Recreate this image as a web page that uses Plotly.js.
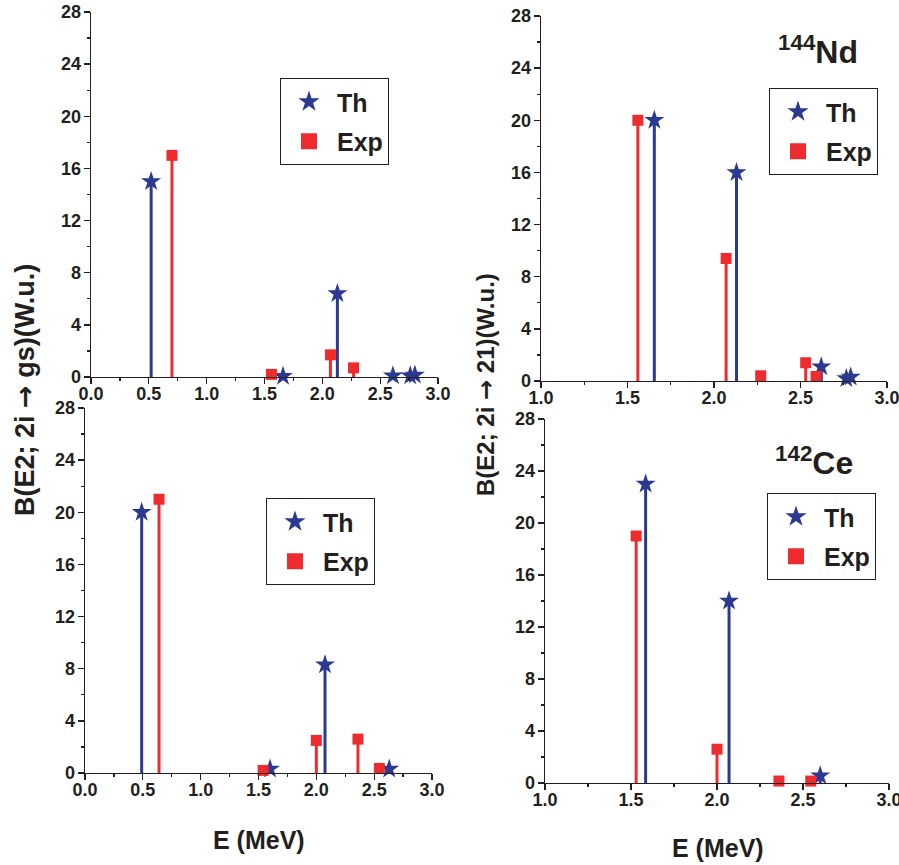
<!DOCTYPE html>
<html>
<head>
<meta charset="utf-8">
<script src="https://cdn.plot.ly/plotly-3.0.1.min.js"></script>
<style>html,body{margin:0;padding:0;background:#fff;}#chart{width:899px;height:865px;}</style>
</head>
<body>
<div id="chart"></div>
<script>
// ---- Data ----
// Top-left panel: B(E2; 2i -> gs)
var tlThE  = [0.52, 1.66, 2.13, 2.61, 2.76, 2.80];
var tlThB  = [15, 0.05, 6.4, 0.1, 0.1, 0.15];
var tlExpE = [0.70, 1.56, 2.07, 2.27];
var tlExpB = [17, 0.2, 1.7, 0.7];

// Top-right panel: 144Nd, B(E2; 2i -> 21)
var trThE  = [1.655, 2.13, 2.62, 2.765, 2.79];
var trThB  = [20, 16, 1.1, 0.2, 0.3];
var trExpE = [1.56, 2.07, 2.27, 2.53, 2.59];
var trExpB = [20, 9.4, 0.4, 1.4, 0.35];

// Bottom-left panel
var blThE  = [0.49, 1.60, 2.075, 2.63];
var blThB  = [20, 0.3, 8.3, 0.3];
var blExpE = [0.64, 1.54, 2.00, 2.36, 2.545];
var blExpB = [21, 0.2, 2.5, 2.6, 0.35];

// Bottom-right panel: 142Ce
var brThE  = [1.585, 2.07, 2.60];
var brThB  = [23, 14, 0.55];
var brExpE = [1.53, 2.00, 2.36, 2.545];
var brExpB = [19, 2.6, 0.15, 0.15];

var yTicks = [0, 4, 8, 12, 16, 20, 24, 28];
var seriesNames = ["Th", "Exp"];

// ---- Styles ----
var BLUE = "#2b3990";
var RED = "#ee2b2e";
var INK = "#231f20";
var FONT = "Liberation Sans, Arial, Helvetica, sans-serif";
var W = 899, H = 865;

function zeros(a){ return a.map(function(){ return 0; }); }

function stemTrace(xs, ys, name, color, symbol, size, xa, ya){
  return {
    type: "scatter", mode: "markers", x: xs, y: ys, name: name,
    xaxis: xa, yaxis: ya, showlegend: false, cliponaxis: false,
    marker: {symbol: symbol, size: size, color: color, line: {width: 0}},
    error_y: {type: "data", symmetric: false, array: zeros(ys), arrayminus: ys,
              width: 0, thickness: 3, color: color}
  };
}
function legendTrace(name, color, symbol, xa, ya, lg){
  return {
    type: "scatter", mode: "markers", x: [null], y: [null], name: name,
    xaxis: xa, yaxis: ya, legend: lg, showlegend: true, legendgroup: lg + name,
    marker: {symbol: symbol, size: 18, color: color}
  };
}

var panels = [
  {xa: "x",  ya: "y",  lg: "legend",  th: [tlThE, tlThB], ex: [tlExpE, tlExpB]},
  {xa: "x2", ya: "y2", lg: "legend2", th: [trThE, trThB], ex: [trExpE, trExpB]},
  {xa: "x3", ya: "y3", lg: "legend3", th: [blThE, blThB], ex: [blExpE, blExpB]},
  {xa: "x4", ya: "y4", lg: "legend4", th: [brThE, brThB], ex: [brExpE, brExpB]}
];

var data = [];
panels.forEach(function(p){
  data.push(stemTrace(p.th[0], p.th[1], seriesNames[0], BLUE, "star", 15, p.xa, p.ya));
  data.push(stemTrace(p.ex[0], p.ex[1], seriesNames[1], RED, "square", 11, p.xa, p.ya));
  data.push(legendTrace(seriesNames[0], BLUE, "star", p.xa, p.ya, p.lg));
  data.push(legendTrace(seriesNames[1], RED, "square", p.xa, p.ya, p.lg));
});

function px2x(px){ return px / W; }
function px2y(py){ return 1 - py / H; }

function tickFont(){ return {family: FONT, size: 18, color: INK, weight: 700}; }

function xAxis(x0, x1, range, anchor){
  return {
    domain: [px2x(x0), px2x(x1)], range: range, anchor: anchor,
    showline: true, linecolor: INK, linewidth: 1.3, showgrid: false, zeroline: false,
    ticks: "outside", ticklen: 6, tickwidth: 1.3, tickcolor: INK,
    dtick: 0.5, tick0: 0, tickformat: ".1f", tickfont: tickFont(),
    ticklabeloverflow: "allow", ticklabelstandoff: -6,
    minor: {ticks: "outside", ticklen: 3, tickwidth: 1.2, tickcolor: INK, dtick: 0.25, showgrid: false},
    fixedrange: true
  };
}
function yAxis(y0, y1, anchor){
  return {
    domain: [px2y(y1), px2y(y0)], range: [0, 28], anchor: anchor,
    showline: true, linecolor: INK, linewidth: 1.3, showgrid: false, zeroline: false,
    ticks: "outside", ticklen: 6, tickwidth: 1.3, tickcolor: INK,
    tickmode: "array", tickvals: yTicks, ticktext: yTicks.map(String), tickfont: tickFont(),
    ticklabeloverflow: "allow", ticklabelstandoff: -1,
    minor: {ticks: "outside", ticklen: 3, tickwidth: 1.2, tickcolor: INK, dtick: 2, showgrid: false},
    fixedrange: true
  };
}

function legendAt(x, y){
  return {
    x: px2x(x), y: px2y(y), xanchor: "left", yanchor: "top",
    bgcolor: "#ffffff", bordercolor: INK, borderwidth: 1,
    font: {family: FONT, size: 25, color: INK, weight: 700},
    itemwidth: 46, tracegroupgap: 4, traceorder: "grouped"
  };
}

function ann(text, x, y, size, angle){
  return {
    text: text, xref: "paper", yref: "paper", x: px2x(x), y: px2y(y),
    xanchor: "center", yanchor: "middle", showarrow: false, textangle: angle || 0,
    font: {family: FONT, color: INK, weight: 700, size: size}
  };
}

var ARROW = "<span style='font-family:DejaVu Sans'>\u2192</span>";

var layout = {
  width: W, height: H,
  margin: {l: 0, r: 0, t: 0, b: 0},
  font: {family: FONT, size: 18, color: INK, weight: 700},
  paper_bgcolor: "#ffffff", plot_bgcolor: "rgba(0,0,0,0)",
  showlegend: true,
  xaxis:  xAxis(91, 438, [0, 3], "y"),
  yaxis:  yAxis(12, 377, "x"),
  xaxis2: xAxis(541, 887, [1, 3], "y2"),
  yaxis2: yAxis(16, 381, "x2"),
  xaxis3: xAxis(85, 432, [0, 3], "y3"),
  yaxis3: yAxis(408, 773, "x3"),
  xaxis4: xAxis(545, 889, [1, 3], "y4"),
  yaxis4: yAxis(419, 783, "x4"),
  legend:  legendAt(280, 78),
  legend2: legendAt(769, 88),
  legend3: legendAt(266, 498),
  legend4: legendAt(767, 493),
  annotations: [
    ann("B(E2; 2i " + ARROW + " gs)(W.u.)", 24, 390, 27, -90),
    ann("B(E2; 2i " + ARROW + " 21)(W.u.)", 486, 384, 24, -90),
    ann("E (MeV)", 259, 840, 25),
    ann("E (MeV)", 718, 848, 25),
    ann("<sup>144</sup>Nd", 818, 50, 32),
    ann("<sup>142</sup>Ce", 814, 461, 32)
  ]
};

Plotly.newPlot("chart", data, layout, {staticPlot: true, displayModeBar: false});
</script>
</body>
</html>
